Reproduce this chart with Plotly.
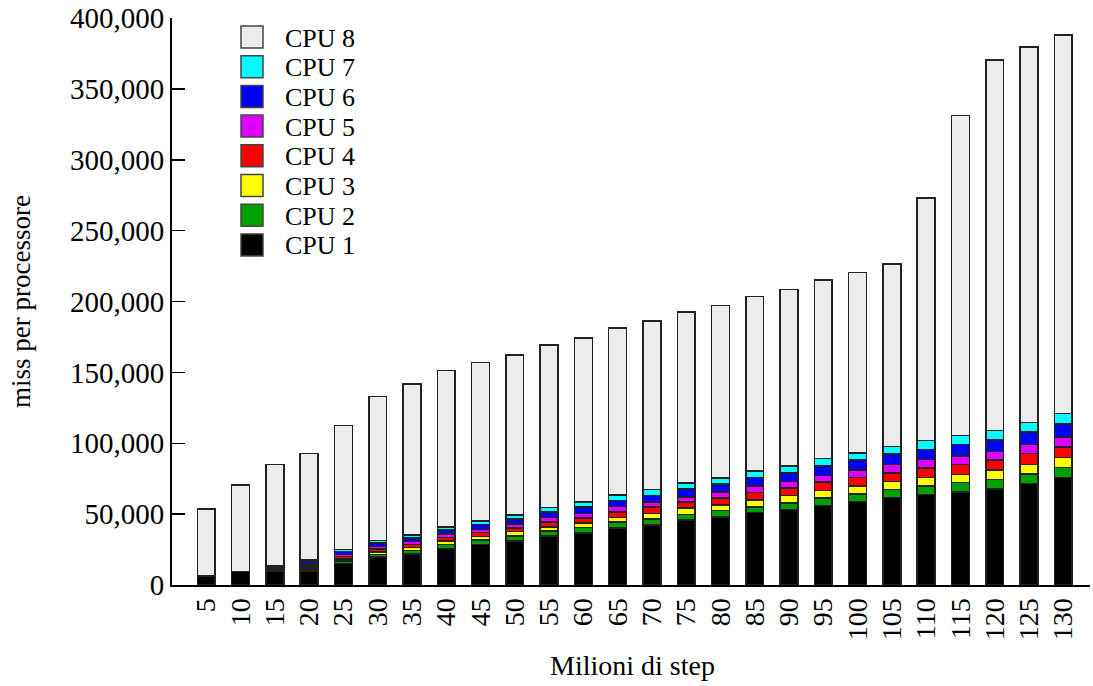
import plotly.graph_objects as go

steps = [5, 10, 15, 20, 25, 30, 35, 40, 45, 50, 55, 60, 65, 70, 75, 80, 85, 90, 95, 100, 105, 110, 115, 120, 125, 130]

cpu1 = [6200, 9700, 9800, 9800, 15200, 19600, 22000, 25800, 28600, 31200, 34500, 36800, 40400, 42200, 45700, 47900, 51000, 53300, 56100, 58900, 61800, 63900, 65800, 67900, 71600, 75700]
cpu2 = [0, 0, 600, 1500, 1800, 2000, 2400, 2800, 3100, 3300, 3500, 3800, 4000, 4500, 4000, 4500, 4200, 4700, 5400, 5400, 5600, 5900, 6400, 6600, 6800, 7100]
cpu3 = [0, 0, 600, 1300, 1500, 1800, 2000, 2400, 2400, 3100, 3100, 3300, 3100, 3800, 4500, 4200, 4700, 5200, 5200, 5400, 5600, 6100, 5900, 6600, 6800, 7100]
cpu4 = [0, 0, 600, 1400, 1600, 2000, 2200, 2600, 2800, 2800, 3300, 3500, 4000, 4500, 4500, 4700, 5200, 5200, 5900, 6100, 6100, 6600, 6800, 7100, 7500, 7500]
cpu5 = [0, 0, 500, 1200, 1500, 1800, 2000, 2300, 2400, 2800, 3100, 3100, 3800, 3500, 3500, 4500, 4700, 4700, 4700, 5200, 6100, 6100, 6100, 6100, 6400, 7100]
cpu6 = [0, 0, 700, 1600, 2000, 2400, 2600, 3000, 3500, 3500, 4000, 4700, 4500, 4700, 5600, 5600, 5900, 6100, 6600, 7100, 7100, 7100, 8000, 8000, 8900, 9200]
cpu7 = [0, 0, 500, 1200, 1500, 1800, 2000, 2200, 2400, 2800, 3100, 3300, 3800, 4200, 4200, 4200, 4700, 4700, 5200, 5200, 5600, 6400, 6600, 6800, 6800, 7300]
cpu8 = [47400, 60900, 71900, 74700, 87300, 101600, 106800, 110300, 111800, 112800, 114600, 115800, 117800, 118900, 120500, 121600, 123100, 124600, 126000, 127200, 128700, 170900, 225700, 261500, 264700, 267200]

series_names = ["CPU 1", "CPU 2", "CPU 3", "CPU 4", "CPU 5", "CPU 6", "CPU 7", "CPU 8"]
series_values = [cpu1, cpu2, cpu3, cpu4, cpu5, cpu6, cpu7, cpu8]
series_colors = ["#000000", "#00a000", "#ffff00", "#ff0000", "#e000ff", "#0000ff", "#00ffff", "#ececec"]
y_ticks = [0, 50000, 100000, 150000, 200000, 250000, 300000, 350000, 400000]

FONT = "Liberation Serif, Times New Roman, serif"
EDGE = "#222222"

# the page body margin is removed by a post script, so page px == figure px
W, H = 1093, 686
L, R, T, B = 172, 3, 18, 101
PW, PH = W - L - R, H - T - B


def px(xpage):
    return (xpage - L) / PW


def py(ypage):
    return (H - B - ypage) / PH


fig = go.Figure()
for name, vals, col in zip(series_names, series_values, series_colors):
    fig.add_trace(go.Bar(
        x=steps, y=vals, name=name, width=2.6, showlegend=False,
        marker=dict(color=col, line=dict(color=EDGE, width=1.5)),
    ))

shapes = []
annotations = []
# legend, drawn top (CPU 8) to bottom (CPU 1)
for i, (name, col) in enumerate(zip(series_names[::-1], series_colors[::-1])):
    cy = 37 + i * 29.7
    shapes.append(dict(type="rect", xref="paper", yref="paper",
                       x0=px(241), x1=px(263), y0=py(cy + 11), y1=py(cy - 11),
                       fillcolor=col, line=dict(color="#444444", width=1.5)))
    annotations.append(dict(text=name, x=px(283), y=py(cy + 1), xref="paper", yref="paper",
                            xanchor="left", yanchor="middle", showarrow=False,
                            font=dict(family=FONT, size=26)))

annotations.append(dict(text="miss per processore", x=px(21), y=py(302), xref="paper", yref="paper",
                        xanchor="center", yanchor="middle",
                        showarrow=False, textangle=-90, font=dict(family=FONT, size=27)))
annotations.append(dict(text="Milioni di step", x=px(632), y=py(665), xref="paper", yref="paper",
                        xanchor="center", yanchor="middle",
                        showarrow=False, font=dict(family=FONT, size=28)))

fig.update_layout(
    width=W, height=H,
    barmode="stack",
    plot_bgcolor="white", paper_bgcolor="white",
    margin=dict(l=L, r=R, t=T, b=B, autoexpand=False),
    font=dict(family=FONT, size=28, color="black"),
    showlegend=False,
    hovermode=False,
    xaxis=dict(
        range=[0, 133.9], tickmode="array", tickvals=steps,
        ticktext=[str(s) for s in steps], tickangle=-90,
        showline=True, linecolor="black", linewidth=2,
        ticks="", showgrid=False, zeroline=False, automargin=False,
        tickfont=dict(family=FONT, size=28),
    ),
    yaxis=dict(
        range=[0, 400100], tickvals=y_ticks,
        tickformat=",d", showline=True, linecolor="black", linewidth=2,
        ticks="inside", ticklen=13, tickwidth=1.5, tickcolor="black",
        showgrid=False, zeroline=False, ticklabeloverflow="allow", automargin=False,
        tickfont=dict(family=FONT, size=29),
    ),
    shapes=shapes,
    annotations=annotations,
)

fig.write_html(
    "out.html",
    config={"displayModeBar": False, "staticPlot": True},
    post_script="document.body.style.margin='0';document.body.style.padding='0';",
)
